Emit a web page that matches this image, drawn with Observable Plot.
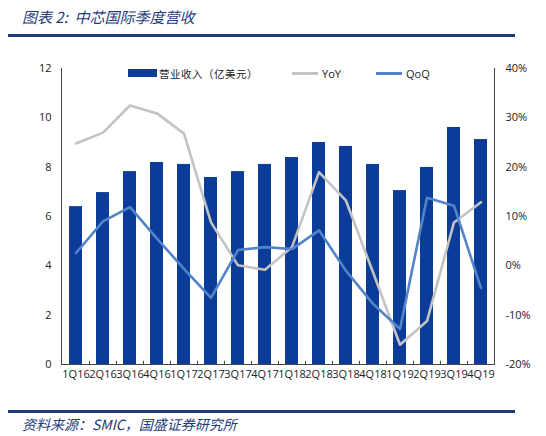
<!DOCTYPE html>
<html><head><meta charset="utf-8">
<script src="https://cdn.jsdelivr.net/npm/d3@7"></script>
<script src="https://cdn.jsdelivr.net/npm/@observablehq/plot@0.6"></script>
<style>
body{margin:0;background:#fff;}
#wrap{position:relative;width:546px;height:436px;overflow:hidden;font-family:"Open Sans",sans-serif;}
#title{position:absolute;left:22px;top:6px;font:italic 15px "Noto Sans CJK SC",sans-serif;color:#1f3c7a;white-space:pre;}
.hr{position:absolute;left:8px;width:507px;background:#1f3c7a;}
#foot{position:absolute;left:22px;top:414px;font:italic 14px "Noto Sans CJK SC",sans-serif;color:#1f3c7a;white-space:pre;}
#chart{position:absolute;left:0;top:45px;}
.lg{position:absolute;top:66px;height:14px;display:flex;align-items:center;font-size:11px;color:#222;}
</style></head>
<body><div id="wrap">
<div id="title">图表 2:  中芯国际季度营收</div>
<div class="hr" style="top:34px;height:3px"></div>
<div id="chart"></div>
<div class="lg" style="left:128px"><span style="display:inline-block;width:29px;height:8px;background:#0b3c99;margin-right:2px"></span><span style="font-family:'Noto Sans CJK SC';font-size:10.5px;letter-spacing:0.5px">营业收入（亿美元）</span></div>
<div class="lg" style="left:292px"><span style="display:inline-block;width:26px;height:3px;background:#c3c3c3;margin-right:4px"></span><span>YoY</span></div>
<div class="lg" style="left:376px"><span style="display:inline-block;width:26px;height:3px;background:#5384c8;margin-right:4px"></span><span>QoQ</span></div>
<div class="hr" style="top:410px;height:3px"></div>
<div id="foot">资料来源：SMIC，国盛证券研究所</div>
</div>
<script>
const quarters = ["1Q16","2Q16","3Q16","4Q16","1Q17","2Q17","3Q17","4Q17","1Q18","2Q18","3Q18","4Q18","1Q19","2Q19","3Q19","4Q19"];
const revenue = [6.40,6.97,7.82,8.19,8.11,7.58,7.82,8.11,8.39,9.00,8.84,8.11,7.05,7.99,9.61,9.12];
const yoy = [24.8,27.0,32.5,30.9,26.8,8.8,0.1,-0.8,3.8,19.0,13.2,-1.3,-16.0,-11.2,8.8,12.9];
const qoq = [2.6,9.0,11.9,5.5,-0.6,-6.5,3.2,3.8,3.4,7.2,-1.0,-7.7,-12.8,13.8,12.2,-4.5];
const leftTicks = [0,2,4,6,8,10,12];
const pctTicks = [-20,-10,0,10,20,30,40];

// map percent onto the left scale: -20% -> 0, 40% -> 12
const pct2y = p => (p + 20) / 5;
const data = quarters.map((q,i)=>({q, rev:revenue[i], yoy:pct2y(yoy[i]), qoq:pct2y(qoq[i])}));
const step = (546 - 61 - 52) / quarters.length;

const chart = Plot.plot({
  width:546, height:349,
  marginTop:23, marginBottom:30, marginLeft:61, marginRight:52,
  style:{fontFamily:"Open Sans, sans-serif", fontSize:"11px", color:"#222", background:"transparent"},
  x:{domain:quarters, paddingInner:0.52, paddingOuter:0.26, label:null},
  y:{domain:[0,12], label:null},
  marks:[
    Plot.barY(data,{x:"q", y:"rev", fill:"#0b3c99"}),
    Plot.lineY(data,{x:"q", y:"yoy", stroke:"#c3c3c3", strokeWidth:2.6}),
    Plot.lineY(data,{x:"q", y:"qoq", stroke:"#5384c8", strokeWidth:2.6}),
    Plot.frame({anchor:"left", stroke:"#444"}),
    Plot.frame({anchor:"right", stroke:"#444"}),
    Plot.ruleY([0],{stroke:"#444"}),
    Plot.ruleX(quarters.slice(1),{x:d=>d, dx:-step/2, y1:0, y2:0.13, stroke:"#444"}),
    Plot.axisY({anchor:"left", ticks:leftTicks, tickSize:0, tickPadding:10, label:null, tickFormat:d=>String(d)}),
    Plot.axisY({anchor:"right", ticks:pctTicks.map(pct2y), tickSize:0, tickPadding:11, label:null, tickFormat:v=>Math.round(v*5-20)+"%"}),
    Plot.axisX({anchor:"bottom", tickSize:0, tickPadding:6, label:null, fontSize:11})
  ]
});
document.getElementById("chart").appendChild(chart);
</script>
</body></html>
